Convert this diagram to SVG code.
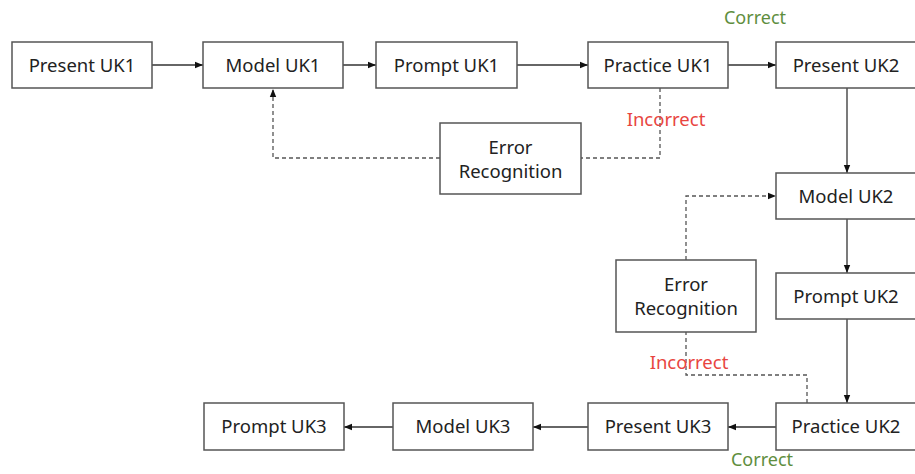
<svg xmlns="http://www.w3.org/2000/svg" width="915" height="474" viewBox="0 0 915 474">
<style>
.box{fill:#fff;stroke:#555;stroke-width:1.5}
.t{font-family:"Noto Sans","Open Sans",sans-serif;font-size:18.5px;fill:#222;text-anchor:middle}
.c{stroke:#333;stroke-width:1.3;fill:none}
.d{stroke:#555;stroke-width:1.3;fill:none;stroke-dasharray:4 3}
.g{font-family:"Noto Sans","Open Sans",sans-serif;font-size:18px;fill:#5e8e3e;text-anchor:middle}
.r{font-family:"Noto Sans","Open Sans",sans-serif;font-size:18.5px;fill:#e8453f;text-anchor:middle}
</style>
<defs>
<marker id="ah" viewBox="0 0 10 10" refX="10" refY="5" markerWidth="8" markerHeight="8" markerUnits="userSpaceOnUse" orient="auto">
<path d="M0,1 L10,5 L0,9 z" fill="#111"/>
</marker>
</defs>
<rect width="915" height="474" fill="#fff"/>
<g id="connectors">
<line class="c" x1="152" y1="65" x2="203" y2="65" marker-end="url(#ah)"/>
<line class="c" x1="343" y1="65" x2="376" y2="65" marker-end="url(#ah)"/>
<line class="c" x1="517" y1="65" x2="588" y2="65" marker-end="url(#ah)"/>
<line class="c" x1="728" y1="65" x2="776" y2="65" marker-end="url(#ah)"/>
<line class="c" x1="847" y1="88" x2="847" y2="173" marker-end="url(#ah)"/>
<line class="c" x1="847" y1="219" x2="847" y2="273" marker-end="url(#ah)"/>
<line class="c" x1="847" y1="319" x2="847" y2="403" marker-end="url(#ah)"/>
<line class="c" x1="777" y1="427" x2="728" y2="427" marker-end="url(#ah)"/>
<line class="c" x1="588" y1="427" x2="533" y2="427" marker-end="url(#ah)"/>
<line class="c" x1="393" y1="427" x2="344" y2="427" marker-end="url(#ah)"/>
<polyline class="d" points="660,88 660,158 581,158"/>
<polyline class="d" points="440,158 273,158 273,89" marker-end="url(#ah)"/>
<polyline class="d" points="807,403 807,375 686,375 686,332"/>
<polyline class="d" points="686,260 686,196 776,196" marker-end="url(#ah)"/>
<text class="g" x="755" y="24">Correct</text>
<text class="r" x="666" y="126">Incorrect</text>
<text class="r" x="689" y="369">Incorrect</text>
<text class="g" x="762" y="466">Correct</text>
</g>
<g id="present-uk1"><rect class="box" x="12" y="42" width="140" height="46"/><text class="t" x="82" y="72">Present UK1</text></g>
<g id="model-uk1"><rect class="box" x="203" y="42" width="140" height="46"/><text class="t" x="273" y="72">Model UK1</text></g>
<g id="prompt-uk1"><rect class="box" x="376" y="42" width="141" height="46"/><text class="t" x="446.5" y="72">Prompt UK1</text></g>
<g id="practice-uk1"><rect class="box" x="588" y="42" width="140" height="46"/><text class="t" x="658" y="72">Practice UK1</text></g>
<g id="present-uk2"><rect class="box" x="776" y="42" width="141" height="46"/><text class="t" x="846" y="72">Present UK2</text></g>
<g id="error-recognition-1"><rect class="box" x="440" y="123" width="141" height="71"/><text class="t" x="510.5" y="154">Error</text><text class="t" x="510.5" y="178">Recognition</text></g>
<g id="model-uk2"><rect class="box" x="776" y="173" width="141" height="46"/><text class="t" x="846" y="203">Model UK2</text></g>
<g id="error-recognition-2"><rect class="box" x="616" y="260" width="140" height="72"/><text class="t" x="686" y="291">Error</text><text class="t" x="686" y="315">Recognition</text></g>
<g id="prompt-uk2"><rect class="box" x="776" y="273" width="141" height="46"/><text class="t" x="846" y="303">Prompt UK2</text></g>
<g id="practice-uk2"><rect class="box" x="776" y="403" width="141" height="47"/><text class="t" x="846" y="433">Practice UK2</text></g>
<g id="present-uk3"><rect class="box" x="588" y="403" width="140" height="47"/><text class="t" x="658" y="433">Present UK3</text></g>
<g id="model-uk3"><rect class="box" x="393" y="403" width="140" height="47"/><text class="t" x="463" y="433">Model UK3</text></g>
<g id="prompt-uk3"><rect class="box" x="204" y="403" width="140" height="47"/><text class="t" x="274" y="433">Prompt UK3</text></g>
</svg>
